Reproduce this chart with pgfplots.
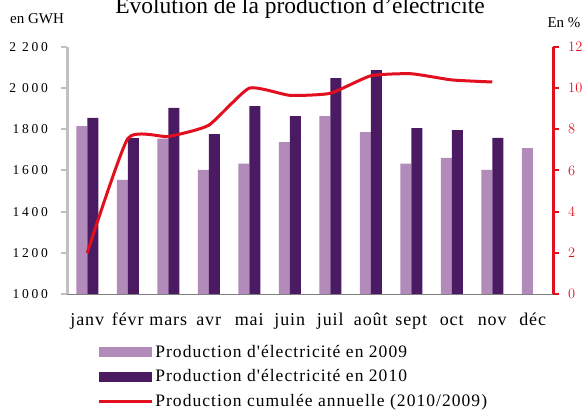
\documentclass[border=0pt]{standalone}
\usepackage{fontspec}
\setmainfont{Liberation Serif}
\newfontfamily\tickfont{Liberation Serif}[LetterSpace=20]
\newfontfamily\legfont{Liberation Serif}[LetterSpace=6]
\newfontfamily\xfont{Liberation Serif}[LetterSpace=5]
\usepackage{pgfplots}
\pgfplotsset{compat=1.18}
\definecolor{c09}{HTML}{B28BBA}
\definecolor{c10}{HTML}{4A1A62}
\definecolor{cred}{HTML}{E2101E}
\definecolor{cgray}{HTML}{C0C0C0}
\definecolor{cgrid}{HTML}{808080}
\pgfplotsset{
  barleg/.style={legend image code/.code={\fill[##1] (0pt,-5pt) rectangle (53pt,5pt);}},
  lineleg/.style={legend image code/.code={\draw[##1] (0pt,0pt) -- (53pt,0pt);}},
}
\begin{document}
\fontsize{15}{17}\selectfont
\begin{tikzpicture}
\path[use as bounding box] (0,0) rectangle (583pt,414pt);
\node[anchor=base, font=\fontsize{23.5}{26}\selectfont] at (300pt,400pt) {Évolution de la production d'électricité};
\node[anchor=base] at (37pt,390pt) {en GWH};
\node[anchor=base] at (564pt,386pt) {En \%};
\begin{axis}[
  at={(67pt,120pt)}, anchor=south west, scale only axis,
  width=486pt, height=247pt,
  xmin=-0.5, xmax=11.5, ymin=1000, ymax=2200,
  ybar=0pt, bar width=11pt,
  axis x line*=bottom, axis y line*=left,
  x axis line style={-, cgrid, line width=0.8pt},
  y axis line style={-, cgray, line width=3pt},
  tick align=outside,
  xtick={0,...,11},
  xticklabels={janv,févr,mars,avr,mai,juin,juil,août,sept,oct,nov,déc},
  x tick style={draw=none},
  minor xtick={-0.5,0.5,...,11.5},
  minor x tick style={cgrid, line width=0.8pt},
  minor tick length=6pt,
  ytick={1000,1200,...,2200},
  yticklabels={1000,1200,1400,1600,1800,2 000,2 200},
  y tick style={cgray, line width=2pt},
  major tick length=6pt,
  xticklabel style={font=\fontsize{18}{20}\xfont, anchor=base, yshift=-25pt},
  yticklabel style={font=\fontsize{13.5}{15}\tickfont, xshift=-8pt},
  legend style={at={(0.062,-0.2)}, anchor=north west, draw=none, fill=none,
    font=\fontsize{17.5}{20}\legfont, row sep=7pt, inner sep=0pt,
    nodes={inner xsep=2pt, inner ysep=1.5pt}},
  legend cell align=left,
]
\addplot[fill=c09, draw=none, barleg] coordinates {
 (0,1816) (1,1555) (2,1755) (3,1603) (4,1633) (5,1738) (6,1864) (7,1787) (8,1633) (9,1661) (10,1603) (11,1709)};
\addlegendentry{Production d'électricité en 2009}
\addplot[fill=c10, draw=none, barleg] coordinates {
 (0,1856) (1,1757) (2,1904) (3,1777) (4,1913) (5,1864) (6,2049) (7,2088) (8,1806) (9,1796) (10,1758)};
\addlegendentry{Production d'électricité en 2010}
\addlegendimage{cred, line width=3pt, lineleg}
\addlegendentry{Production cumulée annuelle (2010/2009)}
\end{axis}
\begin{axis}[
  at={(67pt,120pt)}, anchor=south west, scale only axis,
  width=486pt, height=247pt,
  xmin=-0.5, xmax=11.5, ymin=0, ymax=12,
  axis x line=none, axis y line*=right,
  y axis line style={-, cred, line width=3pt},
  tick align=outside,
  ytick={0,2,...,12},
  y tick style={cred, line width=2pt},
  major tick length=6pt,
  yticklabel style={cred, font=\fontsize{15}{17}\selectfont, xshift=4pt},
]
\addplot[cred, line width=3pt, smooth, tension=0.3, no marks] coordinates {
 (0,2.0) (1,7.55) (2,7.65) (3,8.2) (4,10.0) (5,9.65) (6,9.75) (7,10.6) (8,10.7) (9,10.4) (10,10.3)};
\end{axis}
\end{tikzpicture}
\end{document}
